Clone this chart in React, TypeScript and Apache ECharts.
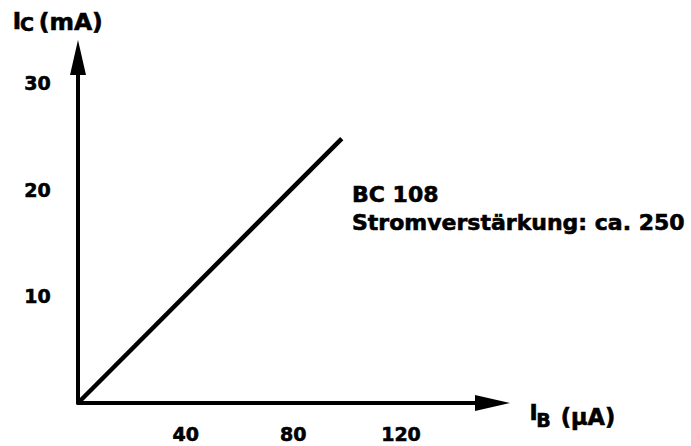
import React, { useEffect, useRef } from "react";
import * as echarts from "echarts";

// Data
const ibValues = [0, 98]; // I_B in µA
const icValues = [0, 24.8]; // I_C in mA
const xTickLabels = [40, 80, 120];
const yTickLabels = [10, 20, 30];
const annotationLines = ["BC 108", "Stromverstärkung: ca. 250"];

const FONT = '"DejaVu Sans", Verdana, sans-serif';
const THICK = 0.6;

export default function App() {
  const ref = useRef<HTMLDivElement>(null);

  useEffect(() => {
    if (!ref.current) return;
    const chart = echarts.init(ref.current, null, { renderer: "svg" });
    const lineData = ibValues.map((x, i) => [x, icValues[i]]);

    const txt = (text: string, x: number, y: number, size: number) => ({
      type: "text",
      x,
      y,
      style: {
        text,
        fill: "#000",
        stroke: "#000",
        lineWidth: THICK,
        font: `bold ${size}px ${FONT}`,
        align: "left",
        verticalAlign: "middle",
      },
    });

    const labelStyle = {
      color: "#000",
      fontSize: 19,
      fontWeight: "bold",
      fontFamily: FONT,
      textBorderColor: "#000",
      textBorderWidth: THICK,
    };

    chart.setOption({
      animation: false,
      backgroundColor: "#fff",
      grid: { left: 78, right: 198.5, top: 57.5, bottom: 43, containLabel: false },
      xAxis: {
        type: "value",
        min: 0,
        max: 154,
        interval: 40,
        axisLine: {
          show: true,
          symbol: ["none", "triangle"],
          symbolSize: [16, 35],
          lineStyle: { color: "#000", width: 4 },
        },
        axisTick: { show: false },
        splitLine: { show: false },
        axisLabel: {
          ...labelStyle,
          margin: 21.5,
          formatter: (v: number) => (xTickLabels.includes(v) ? String(v) : ""),
        },
      },
      yAxis: {
        type: "value",
        min: 0,
        max: 32.4,
        interval: 10,
        axisLine: {
          show: true,
          symbol: ["none", "triangle"],
          symbolSize: [16, 35],
          lineStyle: { color: "#000", width: 4 },
        },
        axisTick: { show: false },
        splitLine: { show: false },
        axisLabel: {
          ...labelStyle,
          margin: 40.5,
          align: "center",
          formatter: (v: number) => (yTickLabels.includes(v) ? String(v) : ""),
        },
      },
      series: [
        {
          type: "line",
          data: lineData,
          showSymbol: false,
          symbol: "none",
          lineStyle: { color: "#000", width: 4.5, cap: "butt" },
          z: 3,
        },
      ],
      graphic: [
        // y-axis title: I_C (mA)
        txt("I", 12.8, 20.8, 22.5),
        txt("C", 20, 24.2, 19),
        txt("(mA)", 38.7, 21.8, 23.5),
        // x-axis title: I_B (µA)
        txt("I", 529.5, 412, 22),
        txt("B", 536.3, 419.5, 19),
        txt("(µA)", 560.7, 417, 22.5),
        // annotation
        txt(annotationLines[0], 352, 194.2, 22),
        txt(annotationLines[1], 352, 222.2, 22),
      ],
    });

    return () => chart.dispose();
  }, []);

  return (
    <div
      ref={ref}
      style={{ position: "fixed", left: 0, top: 0, width: 691, height: 446, background: "#fff" }}
    />
  );
}
